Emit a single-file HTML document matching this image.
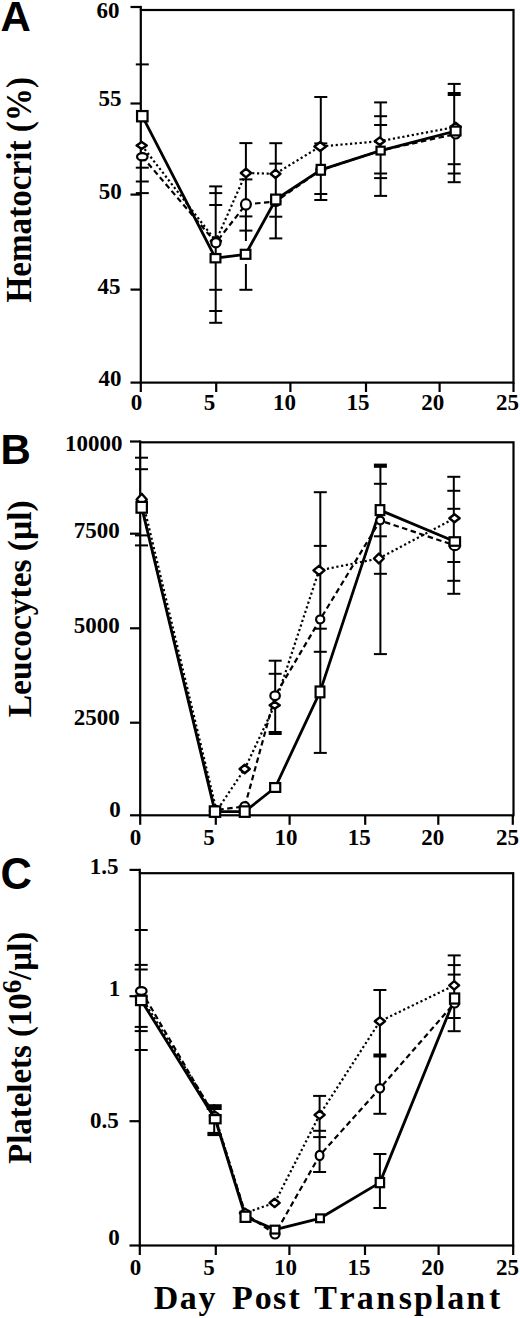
<!DOCTYPE html>
<html><head><meta charset="utf-8"><style>
html,body{margin:0;padding:0;background:#fff;width:520px;height:1318px;overflow:hidden;}
svg{display:block;font-family:"Liberation Serif", serif;}
</style></head><body>
<svg width="520" height="1318" viewBox="0 0 520 1318" stroke="#000" fill="#000">
<rect x="0" y="0" width="520" height="1318" fill="#fff" stroke="none"/>
<g>
<rect x="140.8" y="10.0" width="372.7" height="372.6" fill="none" stroke-width="2.2"/>
<line x1="140.8" y1="5.9" x2="140.8" y2="10.0" stroke-width="2.2" />
<line x1="130.5" y1="7.0" x2="140.8" y2="7.0" stroke-width="2.2" />
<text x="119.6" y="18.2" font-family="Liberation Serif" font-size="23" font-weight="bold" text-anchor="end" stroke="none" >60</text>
<line x1="130.5" y1="103.5" x2="140.8" y2="103.5" stroke-width="2.2" />
<text x="121.6" y="105.6" font-family="Liberation Serif" font-size="23" font-weight="bold" text-anchor="end" stroke="none" >55</text>
<line x1="130.5" y1="194.6" x2="140.8" y2="194.6" stroke-width="2.2" />
<text x="121.8" y="199.2" font-family="Liberation Serif" font-size="23" font-weight="bold" text-anchor="end" stroke="none" >50</text>
<line x1="130.5" y1="289.6" x2="140.8" y2="289.6" stroke-width="2.2" />
<text x="120.6" y="294.0" font-family="Liberation Serif" font-size="23" font-weight="bold" text-anchor="end" stroke="none" >45</text>
<line x1="130.5" y1="382.6" x2="140.8" y2="382.6" stroke-width="2.2" />
<text x="121.4" y="386.4" font-family="Liberation Serif" font-size="23" font-weight="bold" text-anchor="end" stroke="none" >40</text>
<line x1="140.8" y1="382.6" x2="140.8" y2="392.0" stroke-width="2.2" />
<text x="136.4" y="409.8" font-family="Liberation Serif" font-size="23" font-weight="bold" text-anchor="middle" stroke="none" >0</text>
<line x1="216.2" y1="382.6" x2="216.2" y2="392.0" stroke-width="2.2" />
<text x="209.5" y="409.8" font-family="Liberation Serif" font-size="23" font-weight="bold" text-anchor="middle" stroke="none" >5</text>
<line x1="290.4" y1="382.6" x2="290.4" y2="392.0" stroke-width="2.2" />
<text x="284.6" y="409.8" font-family="Liberation Serif" font-size="23" font-weight="bold" text-anchor="middle" stroke="none" >10</text>
<line x1="366.0" y1="382.6" x2="366.0" y2="392.0" stroke-width="2.2" />
<text x="358.0" y="409.8" font-family="Liberation Serif" font-size="23" font-weight="bold" text-anchor="middle" stroke="none" >15</text>
<line x1="439.6" y1="382.6" x2="439.6" y2="392.0" stroke-width="2.2" />
<text x="432.8" y="409.8" font-family="Liberation Serif" font-size="23" font-weight="bold" text-anchor="middle" stroke="none" >20</text>
<line x1="513.5" y1="382.6" x2="513.5" y2="392.0" stroke-width="2.2" />
<text x="507.5" y="409.8" font-family="Liberation Serif" font-size="23" font-weight="bold" text-anchor="middle" stroke="none" >25</text>
<line x1="135.8" y1="64.4" x2="148.8" y2="64.4" stroke-width="2.0" />
<line x1="135.8" y1="167.7" x2="148.8" y2="167.7" stroke-width="2.0" />
<line x1="135.8" y1="181.5" x2="148.8" y2="181.5" stroke-width="2.0" />
<line x1="135.8" y1="193.1" x2="148.8" y2="193.1" stroke-width="2.0" />
<line x1="215.7" y1="186.4" x2="215.7" y2="322.8" stroke-width="2.0" />
<line x1="209.2" y1="186.4" x2="222.2" y2="186.4" stroke-width="2.0" />
<line x1="209.2" y1="193.1" x2="222.2" y2="193.1" stroke-width="2.0" />
<line x1="209.2" y1="205.0" x2="222.2" y2="205.0" stroke-width="2.0" />
<line x1="209.2" y1="289.8" x2="222.2" y2="289.8" stroke-width="2.0" />
<line x1="209.2" y1="311.0" x2="222.2" y2="311.0" stroke-width="2.0" />
<line x1="209.2" y1="322.8" x2="222.2" y2="322.8" stroke-width="2.0" />
<line x1="245.9" y1="143.1" x2="245.9" y2="241.0" stroke-width="2.0" />
<line x1="245.9" y1="264.0" x2="245.9" y2="289.8" stroke-width="2.0" />
<line x1="239.4" y1="143.1" x2="252.4" y2="143.1" stroke-width="2.0" />
<line x1="239.4" y1="179.4" x2="252.4" y2="179.4" stroke-width="2.0" />
<line x1="239.4" y1="216.4" x2="252.4" y2="216.4" stroke-width="2.0" />
<line x1="239.4" y1="230.6" x2="252.4" y2="230.6" stroke-width="2.0" />
<line x1="239.4" y1="289.8" x2="252.4" y2="289.8" stroke-width="2.0" />
<line x1="275.8" y1="143.2" x2="275.8" y2="238.4" stroke-width="2.0" />
<line x1="269.3" y1="143.2" x2="282.3" y2="143.2" stroke-width="2.0" />
<line x1="269.3" y1="163.6" x2="282.3" y2="163.6" stroke-width="2.0" />
<line x1="269.3" y1="216.7" x2="282.3" y2="216.7" stroke-width="2.0" />
<line x1="269.3" y1="238.4" x2="282.3" y2="238.4" stroke-width="2.0" />
<line x1="320.8" y1="97.0" x2="320.8" y2="199.8" stroke-width="2.0" />
<line x1="314.3" y1="97.0" x2="327.3" y2="97.0" stroke-width="2.0" />
<line x1="314.3" y1="143.4" x2="327.3" y2="143.4" stroke-width="2.0" />
<line x1="314.3" y1="194.0" x2="327.3" y2="194.0" stroke-width="2.0" />
<line x1="314.3" y1="200.0" x2="327.3" y2="200.0" stroke-width="2.0" />
<line x1="380.6" y1="102.4" x2="380.6" y2="195.9" stroke-width="2.0" />
<line x1="374.1" y1="102.4" x2="387.1" y2="102.4" stroke-width="2.0" />
<line x1="374.1" y1="116.2" x2="387.1" y2="116.2" stroke-width="2.0" />
<line x1="374.1" y1="125.0" x2="387.1" y2="125.0" stroke-width="2.0" />
<line x1="374.1" y1="173.5" x2="387.1" y2="173.5" stroke-width="2.0" />
<line x1="374.1" y1="178.1" x2="387.1" y2="178.1" stroke-width="2.0" />
<line x1="374.1" y1="195.9" x2="387.1" y2="195.9" stroke-width="2.0" />
<line x1="454.2" y1="83.9" x2="454.2" y2="182.2" stroke-width="2.0" />
<line x1="447.7" y1="83.9" x2="460.7" y2="83.9" stroke-width="2.0" />
<line x1="447.7" y1="94.0" x2="460.7" y2="94.0" stroke-width="4.0" />
<line x1="447.7" y1="164.2" x2="460.7" y2="164.2" stroke-width="2.0" />
<line x1="447.7" y1="173.5" x2="460.7" y2="173.5" stroke-width="2.0" />
<line x1="447.7" y1="182.2" x2="460.7" y2="182.2" stroke-width="2.0" />
<polyline points="142.3,156.7 215.9,242.7 245.9,204.4 275.8,201.5 320.8,170.0 380.6,150.5 455.6,134.0" fill="none" stroke-width="2.2" stroke-dasharray="5.5,3.5" stroke-linecap="butt" stroke-linejoin="round"/>
<polyline points="141.7,145.4 215.9,241.0 246.0,173.0 275.5,173.8 320.2,146.5 379.7,141.2 455.6,127.0" fill="none" stroke-width="2.2" stroke-dasharray="2.2,2.6" stroke-linecap="butt" stroke-linejoin="round"/>
<polyline points="142.3,116.2 215.5,258.2 245.6,254.3 275.8,199.5 320.8,169.8 380.6,150.6 455.6,131.0" fill="none" stroke-width="2.8" stroke-linecap="butt" stroke-linejoin="round"/>
<polygon points="136.60,145.40 141.70,141.90 146.80,145.40 141.70,148.90" fill="#fff" stroke-width="2.4" stroke-linejoin="round"/>
<polygon points="210.80,241.00 215.90,236.80 221.00,241.00 215.90,245.20" fill="#fff" stroke-width="2.4" stroke-linejoin="round"/>
<polygon points="240.85,173.00 246.00,168.70 251.15,173.00 246.00,177.30" fill="#fff" stroke-width="2.4" stroke-linejoin="round"/>
<polygon points="270.50,173.80 275.50,169.60 280.50,173.80 275.50,178.00" fill="#fff" stroke-width="2.4" stroke-linejoin="round"/>
<polygon points="314.40,146.50 320.20,141.95 326.00,146.50 320.20,151.05" fill="#fff" stroke-width="2.4" stroke-linejoin="round"/>
<polygon points="374.75,141.20 379.70,137.40 384.65,141.20 379.70,145.00" fill="#fff" stroke-width="2.4" stroke-linejoin="round"/>
<polygon points="450.50,127.00 455.60,122.80 460.70,127.00 455.60,131.20" fill="#fff" stroke-width="2.4" stroke-linejoin="round"/>
<ellipse cx="142.30" cy="156.70" rx="5.25" ry="3.60" fill="#fff" stroke-width="2.2"/>
<ellipse cx="215.90" cy="242.70" rx="4.60" ry="4.60" fill="#fff" stroke-width="2.2"/>
<ellipse cx="245.90" cy="204.40" rx="4.90" ry="5.20" fill="#fff" stroke-width="2.2"/>
<ellipse cx="275.80" cy="201.50" rx="4.50" ry="4.50" fill="#fff" stroke-width="2.2"/>
<ellipse cx="320.80" cy="170.00" rx="4.50" ry="4.50" fill="#fff" stroke-width="2.2"/>
<ellipse cx="380.60" cy="150.50" rx="3.40" ry="3.40" fill="#fff" stroke-width="2.2"/>
<ellipse cx="455.60" cy="134.00" rx="4.50" ry="4.50" fill="#fff" stroke-width="2.2"/>
<rect x="137.05" y="111.05" width="10.50" height="10.30" fill="#fff" stroke-width="2.2"/>
<rect x="210.60" y="254.05" width="9.80" height="8.30" fill="#fff" stroke-width="2.2"/>
<rect x="240.80" y="249.80" width="9.60" height="9.00" fill="#fff" stroke-width="2.2"/>
<rect x="271.15" y="194.60" width="9.30" height="9.80" fill="#fff" stroke-width="2.2"/>
<rect x="316.65" y="164.90" width="8.30" height="9.80" fill="#fff" stroke-width="2.2"/>
<rect x="376.50" y="146.70" width="8.20" height="7.80" fill="#fff" stroke-width="2.2"/>
<rect x="450.70" y="126.60" width="9.80" height="8.80" fill="#fff" stroke-width="2.2"/>
</g>
<g>
<rect x="140.2" y="442.3" width="373.3" height="372.99999999999994" fill="none" stroke-width="2.2"/>
<line x1="140.2" y1="440.4" x2="140.2" y2="442.3" stroke-width="2.2" />
<line x1="130.0" y1="441.5" x2="140.2" y2="441.5" stroke-width="2.2" />
<text x="122.4" y="450.6" font-family="Liberation Serif" font-size="23" font-weight="bold" text-anchor="end" stroke="none" >10000</text>
<line x1="130.0" y1="533.7" x2="140.2" y2="533.7" stroke-width="2.2" />
<text x="119.8" y="538.4" font-family="Liberation Serif" font-size="23" font-weight="bold" text-anchor="end" stroke="none" >7500</text>
<line x1="130.0" y1="628.3" x2="140.2" y2="628.3" stroke-width="2.2" />
<text x="119.8" y="632.8" font-family="Liberation Serif" font-size="23" font-weight="bold" text-anchor="end" stroke="none" >5000</text>
<line x1="130.0" y1="722.7" x2="140.2" y2="722.7" stroke-width="2.2" />
<text x="119.8" y="725.2" font-family="Liberation Serif" font-size="23" font-weight="bold" text-anchor="end" stroke="none" >2500</text>
<line x1="130.0" y1="815.3" x2="140.2" y2="815.3" stroke-width="2.2" />
<text x="120.8" y="817.2" font-family="Liberation Serif" font-size="23" font-weight="bold" text-anchor="end" stroke="none" >0</text>
<line x1="140.2" y1="815.3" x2="140.2" y2="824.8" stroke-width="2.2" />
<text x="135.4" y="844.6" font-family="Liberation Serif" font-size="23" font-weight="bold" text-anchor="middle" stroke="none" >0</text>
<line x1="215.8" y1="815.3" x2="215.8" y2="824.8" stroke-width="2.2" />
<text x="209.1" y="844.6" font-family="Liberation Serif" font-size="23" font-weight="bold" text-anchor="middle" stroke="none" >5</text>
<line x1="289.6" y1="815.3" x2="289.6" y2="824.8" stroke-width="2.2" />
<text x="286.0" y="844.6" font-family="Liberation Serif" font-size="23" font-weight="bold" text-anchor="middle" stroke="none" >10</text>
<line x1="365.2" y1="815.3" x2="365.2" y2="824.8" stroke-width="2.2" />
<text x="359.2" y="844.6" font-family="Liberation Serif" font-size="23" font-weight="bold" text-anchor="middle" stroke="none" >15</text>
<line x1="438.3" y1="815.3" x2="438.3" y2="824.8" stroke-width="2.2" />
<text x="432.7" y="844.6" font-family="Liberation Serif" font-size="23" font-weight="bold" text-anchor="middle" stroke="none" >20</text>
<line x1="512.8" y1="815.3" x2="512.8" y2="824.8" stroke-width="2.2" />
<text x="507.5" y="844.6" font-family="Liberation Serif" font-size="23" font-weight="bold" text-anchor="middle" stroke="none" >25</text>
<line x1="135.0" y1="457.7" x2="148.0" y2="457.7" stroke-width="2.0" />
<line x1="135.0" y1="469.2" x2="148.0" y2="469.2" stroke-width="2.0" />
<line x1="135.0" y1="535.4" x2="148.0" y2="535.4" stroke-width="2.0" />
<line x1="135.0" y1="545.4" x2="148.0" y2="545.4" stroke-width="2.0" />
<line x1="275.2" y1="660.7" x2="275.2" y2="733.1" stroke-width="2.0" />
<line x1="268.7" y1="660.7" x2="281.7" y2="660.7" stroke-width="2.0" />
<line x1="268.7" y1="673.8" x2="281.7" y2="673.8" stroke-width="2.0" />
<line x1="268.7" y1="733.0" x2="281.7" y2="733.0" stroke-width="4.0" />
<line x1="320.3" y1="492.2" x2="320.3" y2="752.9" stroke-width="2.0" />
<line x1="313.8" y1="492.2" x2="326.8" y2="492.2" stroke-width="2.0" />
<line x1="313.8" y1="545.9" x2="326.8" y2="545.9" stroke-width="2.0" />
<line x1="313.8" y1="628.7" x2="326.8" y2="628.7" stroke-width="2.0" />
<line x1="313.8" y1="651.8" x2="326.8" y2="651.8" stroke-width="2.0" />
<line x1="313.8" y1="752.9" x2="326.8" y2="752.9" stroke-width="2.0" />
<line x1="380.4" y1="464.5" x2="380.4" y2="654.1" stroke-width="2.0" />
<line x1="373.9" y1="465.7" x2="386.9" y2="465.7" stroke-width="4.2" />
<line x1="373.9" y1="483.8" x2="386.9" y2="483.8" stroke-width="2.0" />
<line x1="373.9" y1="536.3" x2="386.9" y2="536.3" stroke-width="2.0" />
<line x1="373.9" y1="573.8" x2="386.9" y2="573.8" stroke-width="2.0" />
<line x1="373.9" y1="654.1" x2="386.9" y2="654.1" stroke-width="2.0" />
<line x1="453.8" y1="476.8" x2="453.8" y2="593.8" stroke-width="2.0" />
<line x1="447.3" y1="476.8" x2="460.3" y2="476.8" stroke-width="2.0" />
<line x1="447.3" y1="490.8" x2="460.3" y2="490.8" stroke-width="2.0" />
<line x1="447.3" y1="508.8" x2="460.3" y2="508.8" stroke-width="2.0" />
<line x1="447.3" y1="562.0" x2="460.3" y2="562.0" stroke-width="2.0" />
<line x1="447.3" y1="580.8" x2="460.3" y2="580.8" stroke-width="2.0" />
<line x1="447.3" y1="593.8" x2="460.3" y2="593.8" stroke-width="2.0" />
<polyline points="141.7,507.0 215.0,810.0 244.8,806.5 275.1,695.7 320.2,619.4 380.2,520.5 454.8,545.4" fill="none" stroke-width="2.2" stroke-dasharray="5.5,3.5" stroke-linecap="butt" stroke-linejoin="round"/>
<polyline points="143.6,505.0 216.6,811.0 244.7,769.0 274.7,705.2 319.0,570.4 378.9,558.5 454.5,518.3" fill="none" stroke-width="2.2" stroke-dasharray="2.2,2.6" stroke-linecap="butt" stroke-linejoin="round"/>
<polyline points="141.7,507.3 215.0,811.6 244.7,811.6 275.2,787.5 320.0,691.9 380.0,510.1 454.8,541.5" fill="none" stroke-width="2.8" stroke-linecap="butt" stroke-linejoin="round"/>
<polygon points="136.60,499.50 141.70,493.70 146.80,499.50 141.70,505.30" fill="#fff" stroke-width="2.4" stroke-linejoin="round"/>
<polygon points="209.90,811.00 215.00,806.80 220.10,811.00 215.00,815.20" fill="#fff" stroke-width="2.4" stroke-linejoin="round"/>
<polygon points="239.60,769.00 244.70,764.80 249.80,769.00 244.70,773.20" fill="#fff" stroke-width="2.4" stroke-linejoin="round"/>
<polygon points="269.60,705.20 274.70,701.70 279.80,705.20 274.70,708.70" fill="#fff" stroke-width="2.4" stroke-linejoin="round"/>
<polygon points="313.45,570.40 319.00,565.80 324.55,570.40 319.00,575.00" fill="#fff" stroke-width="2.4" stroke-linejoin="round"/>
<polygon points="373.95,558.50 378.90,553.55 383.85,558.50 378.90,563.45" fill="#fff" stroke-width="2.4" stroke-linejoin="round"/>
<polygon points="449.35,518.30 454.50,514.30 459.65,518.30 454.50,522.30" fill="#fff" stroke-width="2.4" stroke-linejoin="round"/>
<ellipse cx="141.70" cy="507.00" rx="4.50" ry="4.50" fill="#fff" stroke-width="2.2"/>
<ellipse cx="215.00" cy="810.00" rx="4.50" ry="4.50" fill="#fff" stroke-width="2.2"/>
<ellipse cx="244.80" cy="806.50" rx="4.40" ry="4.40" fill="#fff" stroke-width="2.2"/>
<ellipse cx="275.10" cy="695.70" rx="4.75" ry="4.40" fill="#fff" stroke-width="2.2"/>
<ellipse cx="320.20" cy="619.40" rx="4.10" ry="3.90" fill="#fff" stroke-width="2.2"/>
<ellipse cx="380.20" cy="520.50" rx="3.90" ry="3.90" fill="#fff" stroke-width="2.2"/>
<ellipse cx="454.80" cy="545.40" rx="5.25" ry="4.70" fill="#fff" stroke-width="2.2"/>
<rect x="136.50" y="501.90" width="10.40" height="10.80" fill="#fff" stroke-width="2.2"/>
<rect x="209.80" y="806.35" width="10.40" height="10.50" fill="#fff" stroke-width="2.2"/>
<rect x="239.75" y="806.35" width="9.90" height="10.50" fill="#fff" stroke-width="2.2"/>
<rect x="270.15" y="783.10" width="10.10" height="8.80" fill="#fff" stroke-width="2.2"/>
<rect x="315.60" y="686.50" width="8.80" height="10.80" fill="#fff" stroke-width="2.2"/>
<rect x="375.70" y="505.15" width="8.60" height="9.90" fill="#fff" stroke-width="2.2"/>
<rect x="449.55" y="537.25" width="10.50" height="8.50" fill="#fff" stroke-width="2.2"/>
</g>
<g>
<rect x="139.8" y="873.2" width="373.40000000000003" height="372.29999999999995" fill="none" stroke-width="2.2"/>
<line x1="139.8" y1="868.8" x2="139.8" y2="873.2" stroke-width="2.2" />
<line x1="129.5" y1="869.9" x2="139.8" y2="869.9" stroke-width="2.2" />
<text x="118.6" y="874.4" font-family="Liberation Serif" font-size="23" font-weight="bold" text-anchor="end" stroke="none" >1.5</text>
<line x1="129.5" y1="996.2" x2="139.8" y2="996.2" stroke-width="2.2" />
<text x="120.2" y="996.3" font-family="Liberation Serif" font-size="23" font-weight="bold" text-anchor="end" stroke="none" >1</text>
<line x1="129.5" y1="1121.2" x2="139.8" y2="1121.2" stroke-width="2.2" />
<text x="118.8" y="1127.9" font-family="Liberation Serif" font-size="23" font-weight="bold" text-anchor="end" stroke="none" >0.5</text>
<line x1="129.5" y1="1245.5" x2="139.8" y2="1245.5" stroke-width="2.2" />
<text x="119.8" y="1245.1" font-family="Liberation Serif" font-size="23" font-weight="bold" text-anchor="end" stroke="none" >0</text>
<line x1="139.8" y1="1245.5" x2="139.8" y2="1255.0" stroke-width="2.2" />
<text x="135.5" y="1275.2" font-family="Liberation Serif" font-size="23" font-weight="bold" text-anchor="middle" stroke="none" >0</text>
<line x1="215.8" y1="1245.5" x2="215.8" y2="1255.0" stroke-width="2.2" />
<text x="209.1" y="1275.2" font-family="Liberation Serif" font-size="23" font-weight="bold" text-anchor="middle" stroke="none" >5</text>
<line x1="289.4" y1="1245.5" x2="289.4" y2="1255.0" stroke-width="2.2" />
<text x="285.6" y="1275.2" font-family="Liberation Serif" font-size="23" font-weight="bold" text-anchor="middle" stroke="none" >10</text>
<line x1="365.0" y1="1245.5" x2="365.0" y2="1255.0" stroke-width="2.2" />
<text x="359.0" y="1275.2" font-family="Liberation Serif" font-size="23" font-weight="bold" text-anchor="middle" stroke="none" >15</text>
<line x1="438.6" y1="1245.5" x2="438.6" y2="1255.0" stroke-width="2.2" />
<text x="432.8" y="1275.2" font-family="Liberation Serif" font-size="23" font-weight="bold" text-anchor="middle" stroke="none" >20</text>
<line x1="513.2" y1="1245.5" x2="513.2" y2="1255.0" stroke-width="2.2" />
<text x="507.5" y="1275.2" font-family="Liberation Serif" font-size="23" font-weight="bold" text-anchor="middle" stroke="none" >25</text>
<line x1="134.7" y1="930.0" x2="147.7" y2="930.0" stroke-width="2.0" />
<line x1="134.7" y1="964.9" x2="147.7" y2="964.9" stroke-width="2.0" />
<line x1="134.7" y1="969.5" x2="147.7" y2="969.5" stroke-width="2.0" />
<line x1="134.7" y1="1026.9" x2="147.7" y2="1026.9" stroke-width="2.0" />
<line x1="134.7" y1="1031.1" x2="147.7" y2="1031.1" stroke-width="2.0" />
<line x1="134.7" y1="1050.0" x2="147.7" y2="1050.0" stroke-width="2.0" />
<line x1="214.2" y1="1104.2" x2="214.2" y2="1136.0" stroke-width="2.0" />
<line x1="206.7" y1="1107.1" x2="221.7" y2="1107.1" stroke-width="5.8" />
<line x1="207.4" y1="1134.0" x2="220.9" y2="1134.0" stroke-width="4.2" />
<line x1="319.6" y1="1095.9" x2="319.6" y2="1172.0" stroke-width="2.0" />
<line x1="313.1" y1="1095.9" x2="326.1" y2="1095.9" stroke-width="2.0" />
<line x1="313.1" y1="1130.8" x2="326.1" y2="1130.8" stroke-width="2.0" />
<line x1="313.1" y1="1137.1" x2="326.1" y2="1137.1" stroke-width="2.0" />
<line x1="313.1" y1="1172.0" x2="326.1" y2="1172.0" stroke-width="2.0" />
<line x1="379.9" y1="990.0" x2="379.9" y2="1113.8" stroke-width="2.0" />
<line x1="379.9" y1="1154.0" x2="379.9" y2="1208.0" stroke-width="2.0" />
<line x1="373.4" y1="990.0" x2="386.4" y2="990.0" stroke-width="2.0" />
<line x1="373.4" y1="1055.5" x2="386.4" y2="1055.5" stroke-width="4.0" />
<line x1="373.4" y1="1113.8" x2="386.4" y2="1113.8" stroke-width="2.0" />
<line x1="373.4" y1="1154.0" x2="386.4" y2="1154.0" stroke-width="2.0" />
<line x1="373.4" y1="1208.0" x2="386.4" y2="1208.0" stroke-width="2.0" />
<line x1="454.2" y1="955.4" x2="454.2" y2="1031.2" stroke-width="2.0" />
<line x1="447.7" y1="955.4" x2="460.7" y2="955.4" stroke-width="2.0" />
<line x1="447.7" y1="965.1" x2="460.7" y2="965.1" stroke-width="2.0" />
<line x1="447.7" y1="974.6" x2="460.7" y2="974.6" stroke-width="2.0" />
<line x1="447.7" y1="1018.0" x2="460.7" y2="1018.0" stroke-width="2.0" />
<line x1="447.7" y1="1031.2" x2="460.7" y2="1031.2" stroke-width="2.0" />
<polyline points="141.3,991.0 215.0,1117.0 245.5,1214.0 275.0,1234.0 319.6,1155.5 379.9,1088.3 454.6,1003.0" fill="none" stroke-width="2.2" stroke-dasharray="5.5,3.5" stroke-linecap="butt" stroke-linejoin="round"/>
<polyline points="141.3,997.0 215.0,1116.0 245.0,1213.0 274.6,1202.9 319.6,1114.9 379.9,1021.3 454.2,985.4" fill="none" stroke-width="2.2" stroke-dasharray="2.2,2.6" stroke-linecap="butt" stroke-linejoin="round"/>
<polyline points="141.3,1000.4 215.2,1119.2 245.5,1216.8 275.0,1229.6 320.0,1218.3 379.9,1182.6 454.6,998.5" fill="none" stroke-width="2.8" stroke-linecap="butt" stroke-linejoin="round"/>
<polygon points="136.20,997.00 141.30,992.80 146.40,997.00 141.30,1001.20" fill="#fff" stroke-width="2.4" stroke-linejoin="round"/>
<polygon points="209.90,1116.00 215.00,1111.80 220.10,1116.00 215.00,1120.20" fill="#fff" stroke-width="2.4" stroke-linejoin="round"/>
<polygon points="239.90,1213.00 245.00,1208.80 250.10,1213.00 245.00,1217.20" fill="#fff" stroke-width="2.4" stroke-linejoin="round"/>
<polygon points="269.50,1202.90 274.60,1198.70 279.70,1202.90 274.60,1207.10" fill="#fff" stroke-width="2.4" stroke-linejoin="round"/>
<polygon points="314.50,1114.90 319.60,1110.70 324.70,1114.90 319.60,1119.10" fill="#fff" stroke-width="2.4" stroke-linejoin="round"/>
<polygon points="374.80,1021.30 379.90,1017.10 385.00,1021.30 379.90,1025.50" fill="#fff" stroke-width="2.4" stroke-linejoin="round"/>
<polygon points="449.25,985.40 454.20,981.20 459.15,985.40 454.20,989.60" fill="#fff" stroke-width="2.4" stroke-linejoin="round"/>
<ellipse cx="141.30" cy="991.00" rx="5.30" ry="3.90" fill="#fff" stroke-width="2.2"/>
<ellipse cx="215.00" cy="1117.00" rx="4.50" ry="4.50" fill="#fff" stroke-width="2.2"/>
<ellipse cx="245.50" cy="1214.00" rx="4.50" ry="4.50" fill="#fff" stroke-width="2.2"/>
<ellipse cx="275.00" cy="1234.00" rx="4.50" ry="4.50" fill="#fff" stroke-width="2.2"/>
<ellipse cx="319.60" cy="1155.50" rx="3.90" ry="4.70" fill="#fff" stroke-width="2.2"/>
<ellipse cx="379.90" cy="1088.30" rx="4.20" ry="4.20" fill="#fff" stroke-width="2.2"/>
<ellipse cx="454.60" cy="1003.00" rx="4.50" ry="4.50" fill="#fff" stroke-width="2.2"/>
<rect x="136.00" y="995.70" width="10.60" height="9.40" fill="#fff" stroke-width="2.2"/>
<rect x="209.80" y="1115.10" width="10.80" height="8.20" fill="#fff" stroke-width="2.2"/>
<rect x="240.55" y="1211.70" width="9.90" height="10.20" fill="#fff" stroke-width="2.2"/>
<rect x="270.70" y="1225.70" width="8.60" height="7.80" fill="#fff" stroke-width="2.2"/>
<rect x="316.10" y="1214.40" width="7.80" height="7.80" fill="#fff" stroke-width="2.2"/>
<rect x="375.70" y="1178.00" width="8.40" height="9.20" fill="#fff" stroke-width="2.2"/>
<rect x="450.00" y="993.45" width="9.20" height="10.10" fill="#fff" stroke-width="2.2"/>
</g>
<g stroke="none">
<text x="0.5" y="31.0" font-family="Liberation Sans" font-size="42" font-weight="bold" text-anchor="start" stroke="none" >A</text>
<text x="0.5" y="464.2" font-family="Liberation Sans" font-size="42" font-weight="bold" text-anchor="start" stroke="none" >B</text>
<text x="0.6" y="889.0" font-family="Liberation Sans" font-size="43.5" font-weight="bold" text-anchor="start" stroke="none" >C</text>
<text transform="translate(30.5,302.5) rotate(-90)" x="0" y="0" font-family="Liberation Serif" font-size="35" font-weight="bold" textLength="225.5" lengthAdjust="spacingAndGlyphs">Hematocrit (%)</text>
<text transform="translate(31.2,717.2) rotate(-90)" x="0" y="0" font-family="Liberation Serif" font-size="34" font-weight="bold" textLength="216.8" lengthAdjust="spacingAndGlyphs">Leucocytes (µl)</text>
<text transform="translate(31.0,1163.8) rotate(-90)" x="0" y="0" font-family="Liberation Serif" font-size="33" font-weight="bold" textLength="232.0" lengthAdjust="spacingAndGlyphs">Platelets (10<tspan dy="-10" font-size="27">6</tspan><tspan dy="10">/µl)</tspan></text>
<text x="153.70 179.70 198.40 232.00 254.65 273.00 288.50 314.20 339.50 356.80 376.15 398.85 414.05 435.60 447.20 466.15 489.00" y="1308.6" font-family="Liberation Serif" font-size="34" font-weight="bold">DayPostTransplant</text>
</g>
</svg>
</body></html>
